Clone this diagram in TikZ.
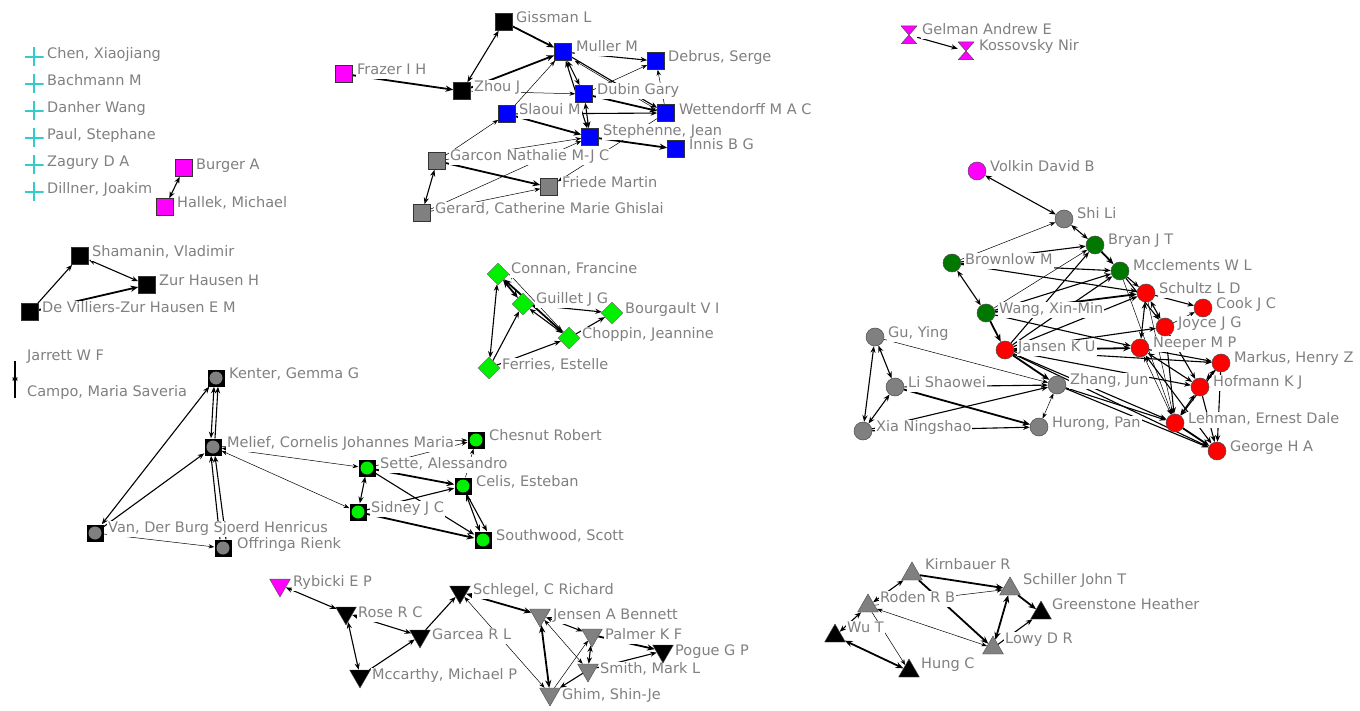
\documentclass[tikz,border=0pt]{standalone}
\usepackage{fontspec}
\setmainfont{DejaVu Sans}
\usetikzlibrary{arrows.meta,shapes.geometric,calc}
\definecolor{mag}{RGB}{255,0,255}
\definecolor{blu}{RGB}{0,0,255}
\definecolor{gry}{RGB}{128,128,128}
\definecolor{lgr}{RGB}{0,240,0}
\definecolor{dgr}{RGB}{0,120,0}
\definecolor{rd}{RGB}{255,0,0}
\definecolor{cy}{RGB}{51,204,204}
\definecolor{txt}{RGB}{128,128,128}
\pgfdeclarelayer{bg}
\pgfdeclarelayer{edges}
\pgfdeclarelayer{labels}
\pgfsetlayers{bg,edges,labels,main}
\newcommand\pers[5]{\node[#1] (#2) at (#3) {};\begin{pgfonlayer}{labels}\node[lab] at (#4) {#5};\end{pgfonlayer}}
\begin{document}
\begin{tikzpicture}[x=1pt,y=-1pt,
 sq/.style={rectangle,draw=black!80,line width=0.6pt,minimum size=17pt,inner sep=0pt,fill=#1},
 sqc/.style={rectangle,fill=black,minimum size=17pt,inner sep=0pt,path picture={\fill[#1] (path picture bounding box.center) circle (6.5pt);}},
 ci/.style={circle,draw=black!70,line width=0.5pt,minimum size=18pt,inner sep=0pt,fill=#1},
 di/.style={diamond,draw=black!60,line width=0.4pt,minimum size=22pt,inner sep=0pt,fill=#1},
 td/.style={regular polygon,regular polygon sides=3,shape border rotate=180,minimum size=24pt,inner sep=0pt,fill=#1,draw=black!70,line width=0.4pt},
 tu/.style={regular polygon,regular polygon sides=3,minimum size=24pt,inner sep=0pt,fill=#1,draw=black!70,line width=0.4pt},
 hg/.style={rectangle,minimum width=16pt,minimum height=18pt,inner sep=0pt,path picture={\filldraw[fill=mag,draw=black!70,line width=0.5pt] (path picture bounding box.north west) -- (path picture bounding box.north east) -- (path picture bounding box.south west) -- (path picture bounding box.south east) -- cycle;}},
 pl/.style={rectangle,minimum size=19pt,inner sep=0pt,path picture={\draw[cy,line width=1.1pt] (path picture bounding box.north) -- (path picture bounding box.south) (path picture bounding box.west) -- (path picture bounding box.east);}},
 lab/.style={anchor=west,text=txt,font=\fontsize{14.5pt}{14.5pt}\selectfont,fill=white,inner sep=1pt,text height=11pt,text depth=3.5pt},
 ar/.style={draw,line width=0.7pt,-{Stealth[length=5pt 1.5,width=3.5pt 1.5]}},
 ba/.style={draw,line width=0.7pt,{Stealth[length=5pt 1.5,width=3.5pt 1.5]}-{Stealth[length=5pt 1.5,width=3.5pt 1.5]}},
 thk/.style={line width=1.8pt},
 md/.style={line width=1.1pt},
 thn/.style={line width=0.5pt},
]
\begin{pgfonlayer}{bg}
\fill[white] (0,0) rectangle (1360,711);
\end{pgfonlayer}
\useasboundingbox (0,0) rectangle (1360,711);

% ---- isolated (cyan)
\pers{pl}{chen}{34,57}{46,55}{Chen, Xiaojiang}
\pers{pl}{bach}{34,84}{46,82}{Bachmann M}
\pers{pl}{danher}{34,111}{46,109}{Danher Wang}
\pers{pl}{paul}{34,138}{46,136}{Paul, Stephane}
\pers{pl}{zagury}{34,165}{46,163}{Zagury D A}
\pers{pl}{dillner}{34,192}{46,190}{Dillner, Joakim}

\pers{sq=mag}{burger}{184,168}{195,166}{Burger A}
\pers{sq=mag}{hallek}{165,207}{176,204}{Hallek, Michael}

% ---- top centre
\pers{sq=black}{gissman}{504,22}{515,19}{Gissman L}
\pers{sq=blu}{muller}{563,52}{575,48}{Muller M}
\pers{sq=blu}{debrus}{656,61}{667,58}{Debrus, Serge}
\pers{sq=mag}{frazer}{344,74}{356,71}{Frazer I H}
\pers{sq=black}{zhou}{462,91}{473,88}{Zhou J}
\pers{sq=blu}{dubin}{584,94}{596,91}{Dubin Gary}
\pers{sq=blu}{wett}{666,113}{678,111}{Wettendorff M A C}
\pers{sq=blu}{slaoui}{507,114}{518,111}{Slaoui M}
\pers{sq=blu}{steph}{590,137}{602,132}{Stephenne, Jean}
\pers{sq=blu}{innis}{676,149}{688,146}{Innis B G}
\pers{sq=gry}{garcon}{437,161}{449,157}{Garcon Nathalie M-J C}
\pers{sq=gry}{friede}{549,187}{561,184}{Friede Martin}
\pers{sq=gry}{gerard}{422,213}{434,210}{Gerard, Catherine Marie Ghislai}

\pers{hg}{gelman}{909,35}{921,31}{Gelman Andrew E}
\pers{hg}{kossov}{966,51}{978,47}{Kossovsky Nir}

% ---- left middle
\pers{sq=black}{shamanin}{80,256}{91,253}{Shamanin, Vladimir}
\pers{sq=black}{zurh}{147,285}{158,282}{Zur Hausen H}
\pers{sq=black}{devil}{30,312}{41,309}{De Villiers-Zur Hausen E M}

\coordinate (jarrett) at (15,361);
\coordinate (campo) at (15,398);
\coordinate (jcm) at (15,379);
\begin{pgfonlayer}{labels}
\node[lab] at (26,357) {Jarrett W F};
\node[lab] at (26,393) {Campo, Maria Saveria};
\end{pgfonlayer}

\pers{sqc=gry}{kenter}{216,378}{228,375}{Kenter, Gemma G}
\pers{sqc=gry}{melief}{213,447}{226,444}{Melief, Cornelis Johannes Maria}
\pers{sqc=gry}{van}{95,533}{107,529}{Van, Der Burg Sjoerd Henricus}
\pers{sqc=gry}{offr}{223,548}{236,545}{Offringa Rienk}

% ---- green diamonds
\pers{di=lgr}{connan}{498,274}{510,270}{Connan, Francine}
\pers{di=lgr}{guillet}{523,304}{535,300}{Guillet J G}
\pers{di=lgr}{bourg}{612,313}{624,310}{Bourgault V I}
\pers{di=lgr}{choppin}{569,338}{581,335}{Choppin, Jeannine}
\pers{di=lgr}{ferries}{489,368}{501,366}{Ferries, Estelle}

% ---- green circles in squares
\pers{sqc=lgr}{chesnut}{476,440}{488,437}{Chesnut Robert}
\pers{sqc=lgr}{sette}{367,468}{379,465}{Sette, Alessandro}
\pers{sqc=lgr}{celis}{463,486}{475,483}{Celis, Esteban}
\pers{sqc=lgr}{sidney}{358,512}{370,509}{Sidney J C}
\pers{sqc=lgr}{southw}{483,540}{495,537}{Southwood, Scott}

% ---- right cluster
\pers{ci=mag}{volkin}{977,171}{989,168}{Volkin David B}
\pers{ci=gry}{shili}{1064,219}{1076,215}{Shi Li}
\pers{ci=dgr}{bryan}{1095,245}{1107,241}{Bryan J T}
\pers{ci=dgr}{brownlow}{952,263}{964,261}{Brownlow M}
\pers{ci=dgr}{mccl}{1120,271}{1132,267}{Mcclements W L}
\pers{ci=dgr}{wang}{986,313}{998,310}{Wang, Xin-Min}
\pers{ci=rd}{jansen}{1005,350}{1017,348}{Jansen K U}
\pers{ci=rd}{schultz}{1146,293}{1158,290}{Schultz L D}
\pers{ci=rd}{cook}{1203,308}{1215,305}{Cook J C}
\pers{ci=rd}{joyce}{1165,327}{1177,324}{Joyce J G}
\pers{ci=rd}{neeper}{1140,348}{1152,344}{Neeper M P}
\pers{ci=rd}{markus}{1221,363}{1233,359}{Markus, Henry Z}
\pers{ci=rd}{hofmann}{1200,387}{1212,383}{Hofmann K J}
\pers{ci=rd}{lehman}{1175,423}{1187,420}{Lehman, Ernest Dale}
\pers{ci=rd}{george}{1217,451}{1229,448}{George H A}
\pers{ci=gry}{guying}{875,337}{887,334}{Gu, Ying}
\pers{ci=gry}{lishao}{895,387}{907,384}{Li Shaowei}
\pers{ci=gry}{xia}{863,431}{875,428}{Xia Ningshao}
\pers{ci=gry}{zhang}{1057,385}{1069,381}{Zhang, Jun}
\pers{ci=gry}{hurong}{1039,427}{1051,424}{Hurong, Pan}

% ---- bottom centre (down triangles)
\pers{td=mag}{rybicki}{280,585}{292,583}{Rybicki E P}
\pers{td=black}{rose}{346,613}{357,614}{Rose R C}
\pers{td=black}{schlegel}{460,592}{472,591}{Schlegel, C Richard}
\pers{td=black}{garcea}{420,636}{431,636}{Garcea R L}
\pers{td=black}{mccarthy}{360,676}{371,676}{Mccarthy, Michael P}
\pers{td=gry}{jensen}{540,615}{552,616}{Jensen A Bennett}
\pers{td=gry}{palmer}{592,635}{604,636}{Palmer K F}
\pers{td=black}{pogue}{663,651}{674,652}{Pogue G P}
\pers{td=gry}{smith}{588,670}{599,670}{Smith, Mark L}
\pers{td=gry}{ghim}{550,694}{561,696}{Ghim, Shin-Je}

% ---- bottom right (up triangles)
\pers{tu=gry}{kirn}{912,574}{924,566}{Kirnbauer R}
\pers{tu=gry}{schiller}{1010,589}{1022,581}{Schiller John T}
\pers{tu=gry}{roden}{868,606}{879,599}{Roden R B}
\pers{tu=black}{green}{1041,613}{1051,606}{Greenstone Heather}
\pers{tu=black}{wu}{835,636}{846,629}{Wu T}
\pers{tu=gry}{lowy}{993,648}{1004,640}{Lowy D R}
\pers{tu=black}{hung}{909,671}{920,665}{Hung C}

\begin{pgfonlayer}{edges}
\draw[ba,md] (burger) -- (hallek);
% top centre
\draw[ba,md] (gissman) -- (zhou);
\draw[ar,thk] (gissman) -- (muller);
\draw[ar,thk] (frazer) -- (zhou);
\draw[ar,thk] (zhou) -- (muller);
\draw[ar,thn] (zhou) -- (dubin);
\draw[ar,thn] (slaoui) -- (muller);
\draw[ar,thn] (garcon) -- (slaoui);
\draw[ar,md] (muller) -- (debrus);
\draw[ba,md] (muller) -- (dubin);
\draw[ba,md] (muller) -- (steph);
\draw[ar,md] (muller) -- (wett);
\draw[ar,thn] ([yshift=3pt]wett.west) -- ([xshift=3pt]muller.south east);
\draw[ar,thn] (dubin) -- (debrus);
\draw[ar,thn] (wett) -- (debrus);
\draw[ar,thk] (dubin) -- (wett);
\draw[ar,thk] (slaoui) -- (steph);
\draw[ar,thk] (steph) -- (innis);
\draw[ba,md] (dubin) -- (steph);
\draw[ar,md] (slaoui) -- (wett);
\draw[ar,thn] (garcon) -- (steph);
\draw[ar,thn] (gerard) -- (steph);
\draw[ar,thn] (gerard) -- (friede);
\draw[ar,thk] (garcon) -- (friede);
\draw[ba,md] (gerard) -- (garcon);
\draw[ar,thn] (wett) -- (friede);
\draw[ar,md] (gelman) -- (kossov);
% left middle
\draw[ar,md] (devil) -- (shamanin);
\draw[ba,md] (shamanin) -- (zurh);
\draw[ar,thk] (devil) -- (zurh);
\draw[ar,md] (jarrett) -- ($(jcm)+(0,5)$);
\draw[ar,md] (campo) -- ($(jcm)+(0,-5)$);
\draw[ba,md] (van) -- (kenter);
\draw[ar,md] (van) -- (melief);
\draw[ba,md] ([xshift=-2pt]kenter.south) -- ([xshift=-2pt]melief.north);
\draw[ar,md] ([xshift=2pt]melief.north) -- ([xshift=2pt]kenter.south);
\draw[ar,md] ([xshift=-3pt]offr.north) -- ([xshift=-2pt]melief.south);
\draw[ar,md] ([xshift=3pt]offr.north) -- ([xshift=2pt]melief.south);
\draw[ar,thn] (van) -- (offr);
\draw[ba,thn] (melief) -- (sette);
\draw[ba,thn] (melief) -- (sidney);
\draw[ar,thn] (melief) -- (chesnut);
% diamonds
\draw[ba,md] (connan) -- (ferries);
\draw[ar,md] (ferries) -- (guillet);
\draw[ba,thk] (guillet) -- (connan);
\draw[ba,thk] (connan) -- (choppin);
\draw[ba,md] (guillet) -- (choppin);
\draw[ar,md] (guillet) -- (bourg);
\draw[ar,md] (choppin) -- (bourg);
\draw[ar,md] (ferries) -- (choppin);
\draw[ar,thn] (choppin) -- (connan.east);
% green circles
\draw[ba,md] (sette) -- (sidney);
\draw[ar,thk] (sette) -- (celis);
\draw[ar,md] (sidney) -- (celis);
\draw[ar,md] (sette) -- (southw);
\draw[ar,thk] (sidney) -- (southw);
\draw[ba,md] (celis) -- (southw);
\draw[ar,md] ([xshift=4pt]celis.south) -- ([xshift=4pt]southw.north);
\draw[ar,thn] (sette) -- (chesnut);
\draw[ar,thn] (celis) -- (chesnut);
% right cluster
\draw[ba,md] (volkin) -- (shili);
\draw[ba,md] (shili) -- (bryan);
\draw[ar,thn] (brownlow) -- (shili);
\draw[ba,md] (brownlow) -- (wang);
\draw[ar,thk] (wang) -- (jansen);
\draw[ar,md] (brownlow) -- (bryan);
\draw[ar,thn] (wang) -- (bryan);
\draw[ar,md] (jansen) -- (bryan);
\draw[ar,thk] (bryan) -- (mccl);
\draw[ar,md] (brownlow) -- (mccl);
\draw[ar,md] (brownlow) -- (schultz);
\draw[ar,md] (wang) -- (mccl);
\draw[ar,thk] (wang) -- (schultz);
\draw[ar,md] (wang) -- (neeper);
\draw[ar,md] (jansen) -- (mccl);
\draw[ar,md] (jansen) -- (schultz);
\draw[ar,thk] (jansen) -- (neeper);
\draw[ar,md] (jansen) -- (joyce);
\draw[ar,thk] (jansen) -- (zhang);
\draw[ar,md] (jansen) -- (lehman);
\draw[ar,md] (jansen) -- (george);
\draw[ar,md] (jansen) -- (hofmann);
\draw[ar,md] (jansen) -- (markus);
\draw[ar,thn] (guying) -- (zhang);
\draw[ba,md] (guying) -- (lishao);
\draw[ba,md] (guying) -- (xia);
\draw[ba,md] (lishao) -- (xia);
\draw[ar,md] (lishao) -- (zhang);
\draw[ar,thk] (lishao) -- (hurong);
\draw[ar,md] (xia) -- (zhang);
\draw[ar,md] (xia) -- (hurong);
\draw[ba,thn] (zhang) -- (hurong);
\draw[ar,md] (zhang) -- (lehman);
\draw[ar,md] (zhang) -- (george);
\draw[ar,md] (mccl) -- (schultz);
\draw[ar,md] (schultz) -- (cook);
\draw[ar,thn] (joyce) -- (cook);
\draw[ba,md] (schultz) -- (joyce);
\draw[ba,md] (schultz) -- (neeper);
\draw[ar,md] (neeper) -- (markus);
\draw[ba,md] (neeper) -- (hofmann);
\draw[ba,thn] (neeper) -- (lehman);
\draw[ba,md] (neeper) -- (george);
\draw[ba,md] (markus) -- (hofmann);
\draw[ar,md] (markus) -- (george);
\draw[ar,md] (hofmann) -- (george);
\draw[ba,md] (hofmann) -- (lehman);
\draw[ar,thk] (lehman) -- (george);
\draw[ar,md] (joyce) -- (hofmann);
\draw[ar,md] (joyce) -- (lehman);
\draw[ar,thn] (schultz) -- (lehman);
\draw[ar,thn] (mccl) -- (lehman);
\draw[ar,md] (markus) -- (lehman);
\draw[ar,md] (mccl) -- (joyce);
% bottom centre
\draw[ba,md] (rybicki) -- (rose);
\draw[ba,md] (rose) -- (garcea);
\draw[ba,md] (rose) -- (mccarthy);
\draw[ar,md] (mccarthy) -- (garcea);
\draw[ar,md] (garcea) -- (schlegel);
\draw[ba,thk] (schlegel) -- (jensen);
\draw[ba,thn] (ghim) -- (schlegel);
\draw[ba,thk] (jensen) -- (ghim);
\draw[ba,md] (jensen) -- (palmer);
\draw[ba,thn] (jensen) -- (smith);
\draw[ba,md] (palmer) -- (smith);
\draw[ar,thk] (palmer) -- (pogue);
\draw[ar,thn] (ghim) -- (palmer);
\draw[ar,md] (smith) -- (ghim);
\draw[ar,md] (smith) -- (pogue);
% bottom right
\draw[ar,thk] (kirn) -- (schiller);
\draw[ar,thk] (kirn) -- (lowy);
\draw[ba,md] (roden) -- (kirn);
\draw[ar,thn] (roden) -- (schiller);
\draw[ba,thn] (roden) -- (lowy);
\draw[ba,thk] (schiller) -- (lowy);
\draw[ar,thk] (schiller) -- (green);
\draw[ar,md] (lowy) -- (green);
\draw[ba,md] (wu) -- (roden);
\draw[ba,thk] (wu) -- (hung);
\draw[ar,thn] (roden) -- (hung);
\end{pgfonlayer}
\end{tikzpicture}
\end{document}
